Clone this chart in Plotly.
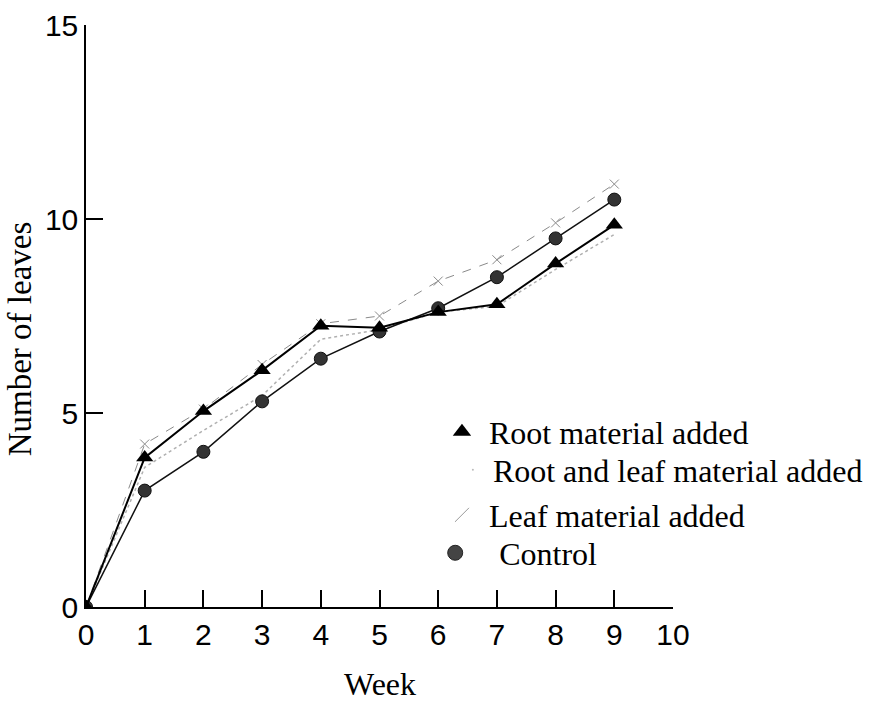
import plotly.graph_objects as go

weeks = [0, 1, 2, 3, 4, 5, 6, 7, 8, 9]
root = [0, 3.85, 5.05, 6.1, 7.25, 7.2, 7.6, 7.8, 8.85, 9.85]
root_leaf = [0, 3.6, 4.55, 5.45, 6.9, 7.15, 7.6, 7.75, 8.7, 9.6]
leaf = [0, 4.2, 5.1, 6.25, 7.3, 7.5, 8.4, 8.95, 9.9, 10.9]
control = [0, 3.0, 4.0, 5.3, 6.4, 7.1, 7.7, 8.5, 9.5, 10.5]

series_names = ["Root material added", "Root and leaf material added",
                "Leaf material added", "Control"]
x_ticks = list(range(0, 11))
y_ticks = [0, 5, 10, 15]

fig = go.Figure()

# data traces
fig.add_trace(go.Scatter(x=weeks, y=root_leaf, mode="lines",
                         line=dict(color="#b0b0b0", width=1.5, dash="dot"),
                         showlegend=False))
fig.add_trace(go.Scatter(x=weeks, y=leaf, mode="lines+markers",
                         line=dict(color="#8a8a8a", width=1, dash="dash"),
                         marker=dict(symbol="x-thin", size=9,
                                     line=dict(color="#8a8a8a", width=1)),
                         showlegend=False))
fig.add_trace(go.Scatter(x=weeks, y=control, mode="lines+markers",
                         line=dict(color="#111111", width=1.5),
                         marker=dict(symbol="circle", size=13, color="#333333",
                                     line=dict(color="#111111", width=1)),
                         showlegend=False))
fig.add_trace(go.Scatter(x=weeks, y=root, mode="lines+markers",
                         line=dict(color="#000000", width=2),
                         marker=dict(symbol="triangle-up", size=15, color="#000000"),
                         showlegend=False))

# legend-only traces, each in its own legend box for exact spacing
fig.add_trace(go.Scatter(x=[None], y=[None], mode="markers", name=series_names[0],
                         legend="legend",
                         marker=dict(symbol="triangle-up", size=16, color="#000000")))
fig.add_trace(go.Scatter(x=[None], y=[None], mode="markers", name=series_names[1],
                         legend="legend2",
                         marker=dict(symbol="circle", size=2, color="#bbbbbb")))
fig.add_trace(go.Scatter(x=[None], y=[None], mode="markers", name=series_names[2],
                         legend="legend3",
                         marker=dict(symbol="line-ne", size=14,
                                     line=dict(color="#999999", width=1))))
fig.add_trace(go.Scatter(x=[None], y=[None], mode="markers", name=series_names[3],
                         legend="legend4",
                         marker=dict(symbol="circle", size=15, color="#444444",
                                     line=dict(color="#222222", width=1))))

leg_font = dict(family="Liberation Serif", size=32, color="black")


def leg(x, y, iw=30):
    return dict(x=x, y=y, xanchor="left", yanchor="middle", font=leg_font,
                bgcolor="rgba(0,0,0,0)", itemwidth=iw)


fig.update_layout(
    width=880, height=704,
    margin=dict(l=86, r=207, t=25, b=97),
    paper_bgcolor="white", plot_bgcolor="white",
    showlegend=True,
    legend=leg(0.5945, 0.3007, 44),
    legend2=leg(0.625, 0.2354),
    legend3=leg(0.5945, 0.158, 44),
    legend4=leg(0.554, 0.0928, 78),
    xaxis=dict(range=[0, 10], tickvals=x_ticks, ticks="inside", ticklen=17,
               tickwidth=1.5, tickcolor="black", showline=True, linecolor="black",
               linewidth=1.5, showgrid=False, zeroline=False, automargin=False,
               tickfont=dict(family="Liberation Sans", size=30, color="black")),
    yaxis=dict(range=[0, 15], tickvals=y_ticks, ticks="inside", ticklen=17,
               tickwidth=1.5, tickcolor="black", showline=True, linecolor="black",
               linewidth=1.5, showgrid=False, zeroline=False, automargin=False,
               tickfont=dict(family="Liberation Sans", size=30, color="black")),
    annotations=[
        dict(text="Number of leaves", textangle=-90, xref="paper", yref="paper",
             x=-0.1465, y=0.46, xanchor="left", yanchor="middle",
             showarrow=False,
             font=dict(family="Liberation Serif", size=33, color="black")),
        dict(text="Week", xref="paper", yref="paper",
             x=0.5, y=-0.1667, xanchor="center", yanchor="bottom",
             showarrow=False,
             font=dict(family="Liberation Serif", size=32, color="black")),
    ],
)

fig.write_html("out.html")
